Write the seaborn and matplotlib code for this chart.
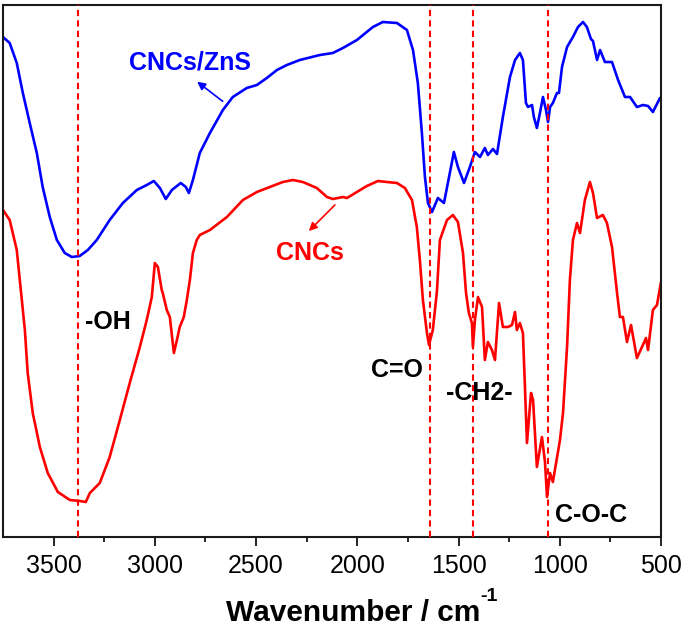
import numpy as np
import pandas as pd
import matplotlib
matplotlib.use("Agg")
import matplotlib.pyplot as plt
import seaborn as sns

# ── Data (transmittance in arbitrary units) ───────────────────────────────────

wn_zns = [3750, 3717, 3682, 3652, 3618, 3583, 3554, 3519, 3484, 3445, 3410, 3371,
          3331, 3287, 3223, 3158, 3089, 3040, 3005, 2975, 2946, 2916, 2872, 2847,
          2832, 2812, 2778, 2728, 2664, 2615, 2546, 2496, 2447, 2397, 2348, 2284,
          2185, 2121, 2071, 2002, 1923, 1874, 1804, 1755, 1725, 1701, 1681, 1666,
          1651, 1631, 1602, 1572, 1543, 1523, 1503, 1473, 1444, 1419, 1394, 1370,
          1355, 1330, 1310, 1281, 1246, 1221, 1197, 1182, 1167, 1157, 1137, 1128,
          1113, 1098, 1083, 1068, 1058, 1048, 1034, 1014, 1004, 989, 964, 935,
          910, 885, 866, 846, 836, 816, 801, 777, 742, 712, 678, 653, 619, 589,
          564, 540, 505]
t_zns = [500, 494, 474, 444, 414, 384, 350, 320, 297, 284, 280, 281,
         287, 297, 317, 334, 347, 352, 356, 349, 338, 347, 354, 350,
         344, 357, 384, 404, 427, 440, 449, 452, 459, 467, 472, 477,
         482, 484, 489, 497, 510, 515, 514, 507, 487, 454, 404, 360,
         334, 325, 339, 334, 364, 385, 370, 354, 370, 385, 380, 389,
         382, 388, 383, 420, 460, 477, 484, 477, 434, 430, 432, 420,
         409, 424, 440, 427, 415, 430, 434, 444, 444, 470, 490, 500,
         510, 515, 510, 498, 496, 477, 487, 475, 475, 457, 440, 440, 430, 432,
         431, 425, 439]

wn_cnc = [3750, 3717, 3682, 3657, 3642, 3628, 3603, 3568, 3529, 3479, 3420, 3371,
          3341, 3321, 3272, 3223, 3173, 3124, 3074, 3040, 3015, 3000, 2985, 2966,
          2961, 2941, 2926, 2906, 2891, 2877, 2857, 2842, 2827, 2812, 2793, 2778,
          2728, 2644, 2565, 2496, 2432, 2368, 2318, 2269, 2200, 2150, 2121, 2071,
          2051, 2002, 1953, 1898, 1854, 1804, 1765, 1730, 1706, 1691, 1676, 1656,
          1646, 1627, 1607, 1592, 1557, 1528, 1503, 1478, 1463, 1449, 1434, 1429,
          1419, 1404, 1384, 1370, 1355, 1335, 1320, 1300, 1281, 1256, 1236, 1221,
          1212, 1197, 1182, 1172, 1162, 1142, 1132, 1113, 1088, 1073, 1063, 1048,
          1034, 999, 984, 964, 950, 935, 915, 900, 876, 851, 836, 816, 787, 767,
          742, 717, 703, 688, 668, 648, 619, 594, 574, 564, 540, 520, 500]
t_cnc = [327, 317, 287, 237, 207, 164, 124, 90, 64, 45, 37, 36,
         35, 44, 54, 80, 117, 154, 190, 217, 240, 274, 270, 247,
         244, 227, 220, 184, 197, 210, 220, 237, 257, 284, 297, 302,
         307, 320, 337, 345, 350, 355, 357, 355, 349, 340, 338, 340,
         339, 345, 351, 356, 355, 354, 349, 337, 310, 277, 237, 204,
         192, 207, 245, 297, 317, 322, 315, 284, 244, 224, 214, 190,
         217, 240, 230, 177, 195, 187, 177, 234, 210, 210, 212, 225,
         207, 214, 204, 150, 94, 144, 137, 70, 100, 75, 40, 64,
         55, 97, 124, 190, 257, 297, 314, 304, 337, 355, 344, 319, 322, 314,
         290, 244, 220, 220, 195, 212, 179, 190, 199, 187, 227, 232, 255]

band_pos = [3380, 1640, 1430, 1058]
band_labels = ["-OH", "C=O", "-CH2-", "C-O-C"]

# ── Plot ──────────────────────────────────────────────────────────────────────

sns.set_style("ticks")
plt.rcParams["font.family"] = ["Liberation Sans", "DejaVu Sans"]
plt.rcParams["text.color"] = "black"
plt.rcParams["xtick.color"] = "black"
plt.rcParams["axes.labelcolor"] = "black"

df = pd.concat([
    pd.DataFrame({"wn": wn_zns, "T": t_zns, "sample": "CNCs/ZnS"}),
    pd.DataFrame({"wn": wn_cnc, "T": t_cnc, "sample": "CNCs"}),
])

fig = plt.figure(figsize=(6.85, 6.30), dpi=100)
ax = fig.add_axes([3 / 685, 93 / 630, 658 / 685, 532 / 630])

sns.lineplot(data=df, x="wn", y="T", hue="sample", sort=False,
             palette={"CNCs/ZnS": "#0000ff", "CNCs": "#ff0000"},
             linewidth=1.9, legend=False, ax=ax)

for x in band_pos:
    ax.axvline(x, color="#ff0000", linestyle=(0, (3, 2)), linewidth=1.5, zorder=3)

ax.set_xlim(3750, 500)
ax.set_ylim(0, 532)
ax.set_xticks([3500, 3000, 2500, 2000, 1500, 1000, 500])
ax.set_xticks([3250, 2750, 2250, 1750, 1250, 750], minor=True)
ax.set_yticks([])
ax.tick_params(axis="x", which="major", length=6.5, width=1.2, labelsize=18,
               direction="out", pad=6)
ax.tick_params(axis="x", which="minor", length=3.5, width=1.2, direction="out")
for s in ax.spines.values():
    s.set_linewidth(1.5)
    s.set_color("#1a1a1a")

# axis label, with a hyphen superscript like the original
ax.set_xlabel("Wavenumber / cm", fontsize=21.5, fontweight="bold")
ax.xaxis.set_label_coords(0.532, -0.117)
ax.annotate("-1", xy=(1.0, 0.78), xycoords=ax.xaxis.label, ha="left", va="bottom",
            fontsize=14, fontweight="bold")
ax.set_ylabel("")

# sample labels with arrows
ax.text(2827, 474, "CNCs/ZnS", color="#0000ff", fontsize=18, fontweight="bold",
        ha="center", va="center")
ax.annotate("", xy=(2802, 457), xytext=(2654, 434),
            arrowprops=dict(arrowstyle="-|>", color="#0000ff", lw=1.2, mutation_scale=12))
ax.text(2234, 284, "CNCs", color="#ff0000", fontsize=18, fontweight="bold",
        ha="center", va="center")
ax.annotate("", xy=(2249, 304), xytext=(2101, 334),
            arrowprops=dict(arrowstyle="-|>", color="#ff0000", lw=1.2, mutation_scale=12))

# band labels
ax.text(3346, 215, band_labels[0], fontsize=18, fontweight="bold", ha="left", va="center")
ax.text(1676, 167, band_labels[1], fontsize=18, fontweight="bold", ha="right", va="center")
ax.text(1399, 144, band_labels[2], fontsize=18, fontweight="bold", ha="center", va="center")
ax.text(1024, 22, band_labels[3], fontsize=18, fontweight="bold", ha="left", va="center")

fig.savefig("out.png", dpi=100)
